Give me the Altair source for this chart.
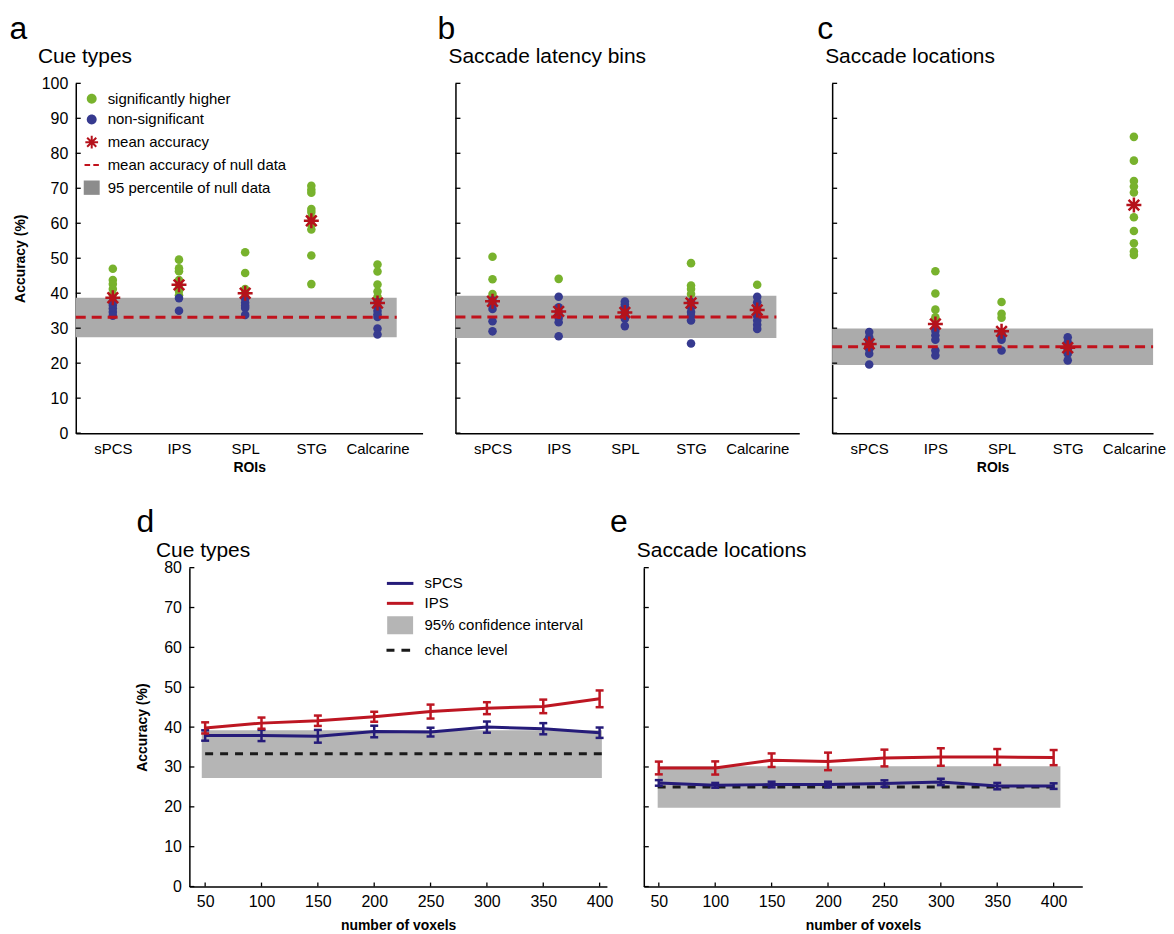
import altair as alt
import pandas as pd

# ---------------- data ----------------
rois = ["sPCS", "IPS", "SPL", "STG", "Calcarine"]

# (a) Cue types
a_sig = {"sPCS": [47.0, 43.8, 42.6, 41.2, 39.6],
         "IPS": [49.6, 47.1, 46.3, 43.8, 42.2, 40.7, 39.4],
         "SPL": [51.7, 45.8, 41.2, 40.1],
         "STG": [70.7, 69.6, 68.7, 64.1, 63.2, 61.6, 59.6, 58.2, 50.8, 42.6],
         "Calcarine": [48.2, 46.2, 42.5, 40.5, 39.0]}
a_ns = {"sPCS": [37.6, 36.6, 35.6, 34.6, 33.6],
        "IPS": [38.6, 35.0],
        "SPL": [38.4, 37.3, 36.4, 35.8, 33.8],
        "STG": [],
        "Calcarine": [37.5, 36.2, 35.0, 34.0, 33.2, 29.9, 28.2]}
a_mean = [38.7, 42.4, 40.0, 60.7, 37.2]
a_null_band = [27.4, 38.7]
a_null_mean = 33.1

# (b) Saccade latency bins
b_sig = {"sPCS": [50.4, 44.0, 39.8], "IPS": [44.1], "SPL": [],
         "STG": [48.6, 42.2, 41.2, 39.8], "Calcarine": [42.4]}
b_ns = {"sPCS": [38.0, 37.0, 35.5, 32.0, 29.1],
        "IPS": [39.0, 36.0, 34.6, 33.0, 31.7, 27.7],
        "SPL": [37.6, 36.8, 36.0, 35.2, 34.6, 33.5, 32.7, 30.6],
        "STG": [37.5, 36.0, 34.6, 33.5, 32.2, 25.6],
        "Calcarine": [39.0, 37.4, 35.5, 33.5, 32.2, 31.0, 29.8]}
b_mean = [37.7, 34.8, 34.5, 37.2, 35.2]
b_null_band = [27.2, 39.3]
b_null_mean = 33.2

# (c) Saccade locations
c_sig = {"sPCS": [], "IPS": [46.3, 39.9, 35.3, 33.1], "SPL": [37.5, 34.1, 33.0],
         "STG": [],
         "Calcarine": [84.7, 77.9, 72.1, 70.5, 68.8, 61.7, 57.8, 54.3, 51.9, 50.9]}
c_ns = {"sPCS": [28.9, 27.4, 26.5, 25.5, 24.0, 22.7, 19.6],
        "IPS": [29.3, 28.0, 26.7, 23.6, 22.2],
        "SPL": [28.4, 27.5, 26.7, 23.6],
        "STG": [27.4, 26.0, 25.0, 24.0, 22.7, 20.8],
        "Calcarine": []}
c_mean = [25.5, 31.2, 29.1, 24.4, 65.2]
c_null_band = [19.5, 29.9]
c_null_mean = 24.7

# (d) / (e) accuracy vs number of voxels
voxels = [50, 100, 150, 200, 250, 300, 350, 400]
d_spcs = [37.9, 37.9, 37.7, 38.9, 38.75, 40.0, 39.6, 38.6]
d_spcs_err = [1.3, 1.4, 1.6, 1.45, 1.1, 1.4, 1.4, 1.3]
d_ips = [39.8, 41.0, 41.6, 42.6, 43.9, 44.75, 45.2, 47.1]
d_ips_err = [1.4, 1.4, 1.3, 1.25, 1.75, 1.5, 1.7, 2.1]
d_ci = [27.25, 39.2]
d_chance = 33.33

e_spcs = [26.0, 25.4, 25.6, 25.6, 25.85, 26.25, 25.2, 25.2]
e_spcs_err = [0.7, 0.6, 0.7, 0.7, 0.8, 0.8, 0.8, 0.7]
e_ips = [29.75, 29.75, 31.7, 31.4, 32.25, 32.5, 32.5, 32.35]
e_ips_err = [1.6, 1.65, 1.7, 2.2, 2.1, 2.2, 2.0, 1.9]
e_ci = [19.75, 30.2]
e_chance = 25.0

legend_a_items = ["significantly higher", "non-significant", "mean accuracy",
                  "mean accuracy of null data", "95 percentile of null data"]
legend_d_items = ["sPCS", "IPS", "95% confidence interval", "chance level"]

# ---------------- style ----------------
FONT = "Liberation Sans"
GREEN = "#78B22D"
NAVY = "#363A8F"
RED_S = "#B5121B"
RED_D = "#C1121C"
GRAY_A = "#ABABAB"
GRAY_LEG = "#8C8C8C"
GRAY_D = "#B5B5B5"
LINE_BLUE = "#251B79"
LINE_RED = "#BD1622"
BLACK = "#1A1A1A"

STAR = "M-1,0L1,0M0,-1L0,1M-0.71,-0.71L0.71,0.71M-0.71,0.71L0.71,-0.71"
HL = "M-1,0L1,0"
CIRC_LEG = "M0.62,0A0.62,0.62,0,1,1,-0.62,0A0.62,0.62,0,1,1,0.62,0Z"
STAR_LEG = "M-0.8,0L0.8,0M0,-0.8L0,0.8M-0.57,-0.57L0.57,0.57M-0.57,0.57L0.57,-0.57"
DASH_LEG = "M-0.9,0L-0.2,0M0.2,0L0.9,0"
SQ_LEG = "M-1,-0.9L1,-0.9L1,0.9L-1,0.9Z"
LINE_LEG = "M-1.33,0L1.33,0"
# grey swatch drawn as stacked strokes so that it stays 27 x 18 px
RECT_LEG = "".join("M-1.3,%.2fL1.3,%.2f" % (v, v) for v in
                   [-0.75, -0.5, -0.25, 0.0, 0.25, 0.5, 0.75])
DASH_LEG_D = "M-1.37,0L-0.57,0M0.13,0L1.0,0"

X0 = 0.44
PXU = 66.4
BAND_X1 = 5.29
TOP_H = 351
BOT_H = 320

LABEL_EXPR = "[" + ",".join("'%s'" % r for r in rois) + "][datum.value - 1]"


def pts(d):
    rows = [{"x": i + 1, "acc": v} for i, r in enumerate(rois) for v in d[r]]
    return pd.DataFrame(rows, columns=["x", "acc"])


def text_layer(txt, x, y, size):
    return alt.Chart(pd.DataFrame({"t": [txt]})).mark_text(
        align="left", baseline="alphabetic", fontSize=size, font=FONT, color="black"
    ).encode(text="t:N", x=alt.value(x), y=alt.value(y))


def top_panel(sig, ns, mean, band, null_mean, width, letter, letter_x, title,
              title_x, ylabels, xtitle, legend=False):
    xs = alt.Scale(domain=[X0, X0 + width / PXU], nice=False, zero=False)
    ys = alt.Scale(domain=[0, 100], nice=False, zero=False)
    xaxis = alt.Axis(values=[1, 2, 3, 4, 5], labelExpr=LABEL_EXPR, ticks=False,
                     grid=False, labelFontSize=15, labelPadding=8, labelAngle=0,
                     labelOverlap=False, title=xtitle, titleFontSize=14,
                     titleFontWeight="bold", titlePadding=5)
    yaxis = alt.Axis(values=list(range(0, 101, 10)), labels=ylabels, ticks=False,
                     grid=False, labelFontSize=16, labelPadding=8,
                     title="Accuracy (%)" if ylabels else None, titleFontSize=14,
                     titleFontWeight="bold", titlePadding=14)
    band_df = pd.DataFrame({"x0": [X0], "x1": [BAND_X1], "lo": [band[0]], "hi": [band[1]]})
    band_l = alt.Chart(band_df).mark_rect(color=GRAY_A).encode(
        x=alt.X("x0:Q", scale=xs, axis=xaxis), x2="x1:Q",
        y=alt.Y("lo:Q", scale=ys, axis=yaxis), y2="hi:Q")
    ticks = alt.Chart(pd.DataFrame({"v": list(range(0, 101, 10))})).mark_rule(
        color="black", strokeWidth=1.3).encode(
        y=alt.Y("v:Q", scale=ys, axis=yaxis), x=alt.value(0), x2=alt.value(5))
    enc = dict(x=alt.X("x:Q", scale=xs, axis=xaxis), y=alt.Y("acc:Q", scale=ys, axis=yaxis))
    green = alt.Chart(pts(sig)).mark_circle(size=74, color=GREEN, opacity=1).encode(**enc)
    blue = alt.Chart(pts(ns)).mark_circle(size=74, color=NAVY, opacity=1).encode(**enc)
    null_df = pd.DataFrame({"x0": [X0], "x1": [BAND_X1], "v": [null_mean]})
    null_l = alt.Chart(null_df).mark_rule(color=RED_D, strokeWidth=3, strokeDash=[10, 6]).encode(
        x=alt.X("x0:Q", scale=xs, axis=xaxis), x2="x1:Q",
        y=alt.Y("v:Q", scale=ys, axis=yaxis))
    mean_df = pd.DataFrame({"x": [1, 2, 3, 4, 5], "acc": mean})
    star = alt.Chart(mean_df).mark_point(shape=STAR, size=225, filled=False, color=RED_S,
                                         strokeWidth=2.5, opacity=1).encode(**enc)
    layers = [band_l, ticks, green, blue, null_l, star,
              text_layer(letter, letter_x, -44, 32), text_layer(title, title_x, -20, 21)]
    if legend:
        leg = alt.Legend(title=None, orient="none", legendX=7, legendY=6.5, padding=0,
                         labelFontSize=15, labelFont=FONT, labelColor="black",
                         symbolSize=256, symbolStrokeWidth=2, symbolOpacity=1,
                         labelOffset=7, rowPadding=2.8, labelLimit=400)
        dom = legend_a_items
        lg = alt.Chart(pd.DataFrame({"kind": dom})).transform_filter("false").mark_point(
            filled=True, opacity=1).encode(
            fill=alt.Fill("kind:N", legend=leg, scale=alt.Scale(
                domain=dom, range=[GREEN, NAVY, "transparent", "transparent", GRAY_LEG])),
            stroke=alt.Stroke("kind:N", legend=leg, scale=alt.Scale(
                domain=dom, range=["transparent", "transparent", RED_S, RED_D, "transparent"])),
            shape=alt.Shape("kind:N", legend=leg, scale=alt.Scale(
                domain=dom, range=[CIRC_LEG, CIRC_LEG, STAR_LEG, DASH_LEG, SQ_LEG])))
        layers.append(lg)
    return alt.layer(*layers).properties(width=width, height=TOP_H)


def bottom_panel(spcs, spcs_err, ips, ips_err, ci, ci_x, chance, chance_x, xdom, width,
                 letter, letter_x, title, title_x, ylabels, legend=False):
    xs = alt.Scale(domain=xdom, nice=False, zero=False)
    ys = alt.Scale(domain=[0, 80], nice=False, zero=False)
    xaxis = alt.Axis(values=voxels, ticks=False, grid=False, labelFontSize=16,
                     labelPadding=7, labelOverlap=False, title="number of voxels",
                     titleFontSize=14, titleFontWeight="bold", titlePadding=9)
    yaxis = alt.Axis(values=list(range(0, 81, 10)), labels=ylabels, ticks=False, grid=False,
                     labelFontSize=16, labelPadding=8,
                     title="Accuracy (%)" if ylabels else None, titleFontSize=14,
                     titleFontWeight="bold", titlePadding=14)
    band_df = pd.DataFrame({"x0": [ci_x[0]], "x1": [ci_x[1]], "lo": [ci[0]], "hi": [ci[1]]})
    band_l = alt.Chart(band_df).mark_rect(color=GRAY_D).encode(
        x=alt.X("x0:Q", scale=xs, axis=xaxis), x2="x1:Q",
        y=alt.Y("lo:Q", scale=ys, axis=yaxis), y2="hi:Q")
    ch_df = pd.DataFrame({"x0": [chance_x[0]], "x1": [chance_x[1]], "v": [chance]})
    ch_l = alt.Chart(ch_df).mark_rule(color=BLACK, strokeWidth=3, strokeDash=[8, 7]).encode(
        x=alt.X("x0:Q", scale=xs, axis=xaxis), x2="x1:Q", y=alt.Y("v:Q", scale=ys, axis=yaxis))
    yt = alt.Chart(pd.DataFrame({"v": list(range(0, 81, 10))})).mark_rule(
        color="black", strokeWidth=1.3).encode(
        y=alt.Y("v:Q", scale=ys, axis=yaxis), x=alt.value(0), x2=alt.value(5))
    xt = alt.Chart(pd.DataFrame({"v": voxels})).mark_rule(
        color="black", strokeWidth=1.3).encode(
        x=alt.X("v:Q", scale=xs, axis=xaxis), y=alt.value(BOT_H), y2=alt.value(BOT_H - 4))
    layers = [band_l, ch_l, yt, xt]
    for vals, errs, col in [(spcs, spcs_err, LINE_BLUE), (ips, ips_err, LINE_RED)]:
        df = pd.DataFrame({"n": voxels, "acc": vals, "err": errs})
        xe = alt.X("n:Q", scale=xs, axis=xaxis)
        base = alt.Chart(df).transform_calculate(
            lo="datum.acc - datum.err", hi="datum.acc + datum.err")
        line = alt.Chart(df).mark_line(color=col, strokeWidth=3).encode(
            x=xe, y=alt.Y("acc:Q", scale=ys, axis=yaxis))
        bars = base.mark_rule(color=col, strokeWidth=2.5).encode(
            x=xe, y=alt.Y("lo:Q", scale=ys, axis=yaxis), y2="hi:Q")
        caps = base.transform_fold(["lo", "hi"], as_=["k", "cap"]).mark_point(
            shape=HL, size=64, filled=False, color=col, strokeWidth=2.5, opacity=1).encode(
            x=xe, y=alt.Y("cap:Q", scale=ys, axis=yaxis))
        layers += [line, bars, caps]
    layers += [text_layer(letter, letter_x, -36, 32), text_layer(title, title_x, -11, 21)]
    if legend:
        leg = alt.Legend(title=None, orient="none", legendX=200, legendY=4.3, padding=0,
                         labelFontSize=15, labelFont=FONT, labelColor="black",
                         symbolSize=400, symbolStrokeWidth=3, symbolOpacity=1,
                         labelOffset=13, rowPadding=0, labelLimit=400)
        dom = legend_d_items
        lg = alt.Chart(pd.DataFrame({"kind": dom})).transform_filter("false").mark_point(
            filled=True, opacity=1).encode(
            fill=alt.Fill("kind:N", legend=leg, scale=alt.Scale(
                domain=dom, range=["transparent", "transparent", "transparent", "transparent"])),
            stroke=alt.Stroke("kind:N", legend=leg, scale=alt.Scale(
                domain=dom, range=[LINE_BLUE, LINE_RED, GRAY_D, BLACK])),
            shape=alt.Shape("kind:N", legend=leg, scale=alt.Scale(
                domain=dom, range=[LINE_LEG, LINE_LEG, RECT_LEG, DASH_LEG_D])))
        layers.append(lg)
    return alt.layer(*layers).properties(width=width, height=BOT_H)


pa = top_panel(a_sig, a_ns, a_mean, a_null_band, a_null_mean, 348, "a", -66.5,
               "Cue types", -38, True, "ROIs", legend=True)
pb = top_panel(b_sig, b_ns, b_mean, b_null_band, b_null_mean, 345, "b", -18,
               "Saccade latency bins", -7, False, None)
pc = top_panel(c_sig, c_ns, c_mean, c_null_band, c_null_mean, 322, "c", -15,
               "Saccade locations", -7, False, "ROIs")

pd_ = bottom_panel(d_spcs, d_spcs_err, d_ips, d_ips_err, d_ci, [47, 402], d_chance,
                   [50, 402], [36, 406.5], 419, "d", -53, "Cue types", -33.5, True,
                   legend=True)
pe = bottom_panel(e_spcs, e_spcs_err, e_ips, e_ips_err, e_ci, [49, 406], e_chance,
                  [49, 405], [36.7, 425.4], 440, "e", -34, "Saccade locations", -7, False)

spacer = alt.Chart(pd.DataFrame({"v": [0]})).mark_point(opacity=0).properties(width=77, height=10)

res = dict(fill="independent", stroke="independent", shape="independent")
row1 = alt.hconcat(pa, pb, pc, spacing=33, bounds="flush").resolve_scale(**res).resolve_legend(**res)
row2 = alt.hconcat(spacer, pd_, pe, spacing=37, bounds="flush").resolve_scale(**res).resolve_legend(**res)

chart = alt.vconcat(row1, row2, spacing=31).resolve_scale(**res).resolve_legend(**res).properties(
    padding={"left": 1, "top": 4, "right": 0, "bottom": 0}
).configure_view(stroke=None).configure_axis(
    labelFont=FONT, titleFont=FONT, labelColor="black", titleColor="black",
    domainColor="black", domainWidth=1.5
).configure_text(font=FONT)

chart.save("out.html", embed_options={"renderer": "svg", "actions": False})
